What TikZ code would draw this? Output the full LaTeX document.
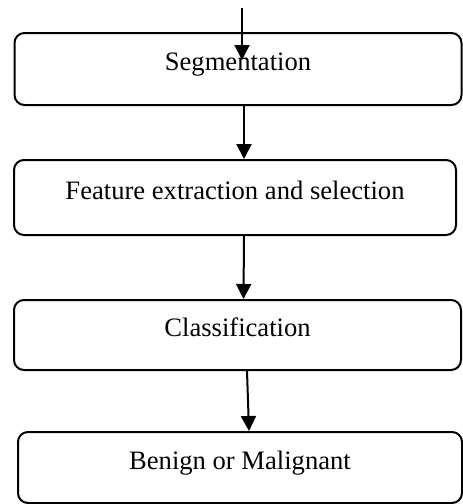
\documentclass[tikz,border=0pt]{standalone}
\usepackage{fontspec}
\setmainfont{Liberation Serif}
\usetikzlibrary{arrows.meta}

\tikzset{
  stage/.style={draw, line width=1pt, rounded corners=5pt, inner sep=0pt,
    text height=9.5pt, text depth=8pt, font=\fontsize{13.3}{16}\selectfont},
  flow/.style={-{Triangle[length=7.5pt,width=7.5pt]}, line width=1pt},
}

\begin{document}
\begin{tikzpicture}[x=0.5pt,y=-0.5pt]
  \useasboundingbox (0,0) rectangle (462,504);

  \node[stage, minimum width=223.5pt, minimum height=36pt]   (seg)  at (238,69)    {Segmentation};
  \node[stage, minimum width=221pt,   minimum height=37.5pt] (feat) at (235,197.5) {Feature extraction and selection};
  \node[stage, minimum width=223.5pt, minimum height=35pt]   (cls)  at (237.5,335) {Classification};
  \node[stage, minimum width=222pt,   minimum height=35.5pt] (res)  at (240,467.5) {Benign or Malignant};

  \coordinate (in) at (242,8);

  \draw[flow] (in) -- ([yshift=-14pt]seg.north -| in);
  \draw[flow] ([xshift=3pt]seg.south) -- ([xshift=4.5pt]feat.north);
  \draw[flow] ([xshift=4.5pt]feat.south) -- ([xshift=3pt]cls.north);
  \draw[flow] ([xshift=4.75pt]cls.south) -- ([xshift=4.5pt]res.north);
\end{tikzpicture}
\end{document}
